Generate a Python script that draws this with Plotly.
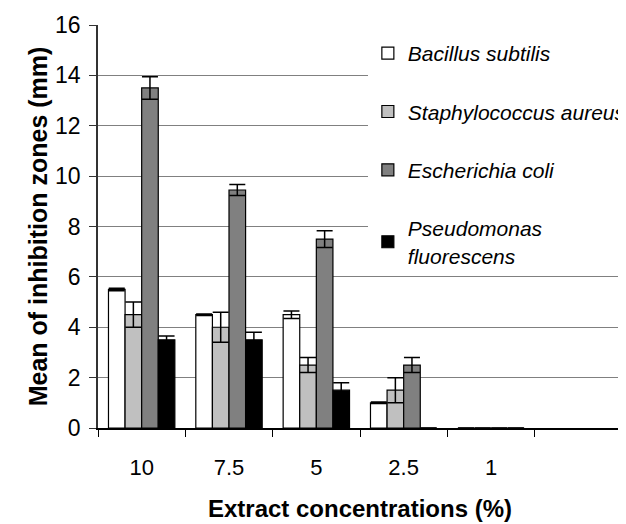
import plotly.graph_objects as go

categories = ["10", "7.5", "5", "2.5", "1"]
all_slots = ["10", "7.5", "5", "2.5", "1", " "]

series_names = ["Bacillus subtilis", "Staphylococcus aureus", "Escherichia coli", "Pseudomonas<br>fluorescens"]
bacillus = [5.5, 4.5, 4.5, 1.0, 0]
staph = [4.5, 4.0, 2.5, 1.5, 0]
ecoli = [13.5, 9.45, 7.5, 2.5, 0]
pseudo = [3.5, 3.5, 1.5, 0, 0]

bacillus_err = [0.05, 0.03, 0.15, 0.03, 0]
staph_err = [0.5, 0.6, 0.3, 0.5, 0]
ecoli_err = [0.45, 0.22, 0.33, 0.3, 0]
pseudo_err = [0.15, 0.3, 0.3, 0.0, 0]

colors = ["#FFFFFF", "#C0C0C0", "#808080", "#000000"]
values = [bacillus, staph, ecoli, pseudo]
errors = [bacillus_err, staph_err, ecoli_err, pseudo_err]

fig = go.Figure()
for i, (name, vals, errs, col) in enumerate(zip(series_names, values, errors, colors)):
    fig.add_trace(go.Bar(
        x=categories, y=vals, name=name, legendgroup="g%d" % i,
        marker=dict(color=col, line=dict(color="#000000", width=1.2)),
        error_y=dict(type="data", array=errs, visible=True, color="#000000", thickness=1.5, width=8),
    ))

font_family = "Liberation Sans, Arial, sans-serif"
# the page body has an 8px margin, so the figure is sized to fit the 626x524 window
fig.update_layout(
    width=618, height=516,
    margin=dict(l=90, r=4, t=17, b=96, autoexpand=False),
    paper_bgcolor="white", plot_bgcolor="white",
    barmode="group", bargap=0.24, bargroupgap=0,
    font=dict(family=font_family, color="#000000"),
    legend=dict(
        x=0.515, y=0.98, xanchor="left", yanchor="top",
        bgcolor="white", borderwidth=0,
        font=dict(size=21, style="italic", family=font_family),
        tracegroupgap=28,
    ),
    xaxis=dict(
        type="category", categoryorder="array", categoryarray=all_slots,
        range=[-0.5, 5.5], tickson="boundaries", ticks="outside", ticklen=7,
        tickcolor="#000000", showline=True, linecolor="#000000", linewidth=1.5,
        showgrid=False, tickfont=dict(size=22), ticklabelstandoff=19,
        title=dict(text="<b>Extract concentrations (%)</b>", font=dict(size=24), standoff=21),
    ),
    yaxis=dict(
        range=[0, 16], dtick=2, ticks="outside", ticklen=7, tickcolor="#333333",
        showline=True, linecolor="#333333", linewidth=1.5,
        showgrid=True, gridcolor="#808080", gridwidth=1, zeroline=False,
        tickfont=dict(size=23), ticklabelstandoff=4,
        title=dict(text="<b>Mean of inhibition zones (mm)</b>", font=dict(size=25), standoff=0),
    ),
)

fig.write_html("out.html")
